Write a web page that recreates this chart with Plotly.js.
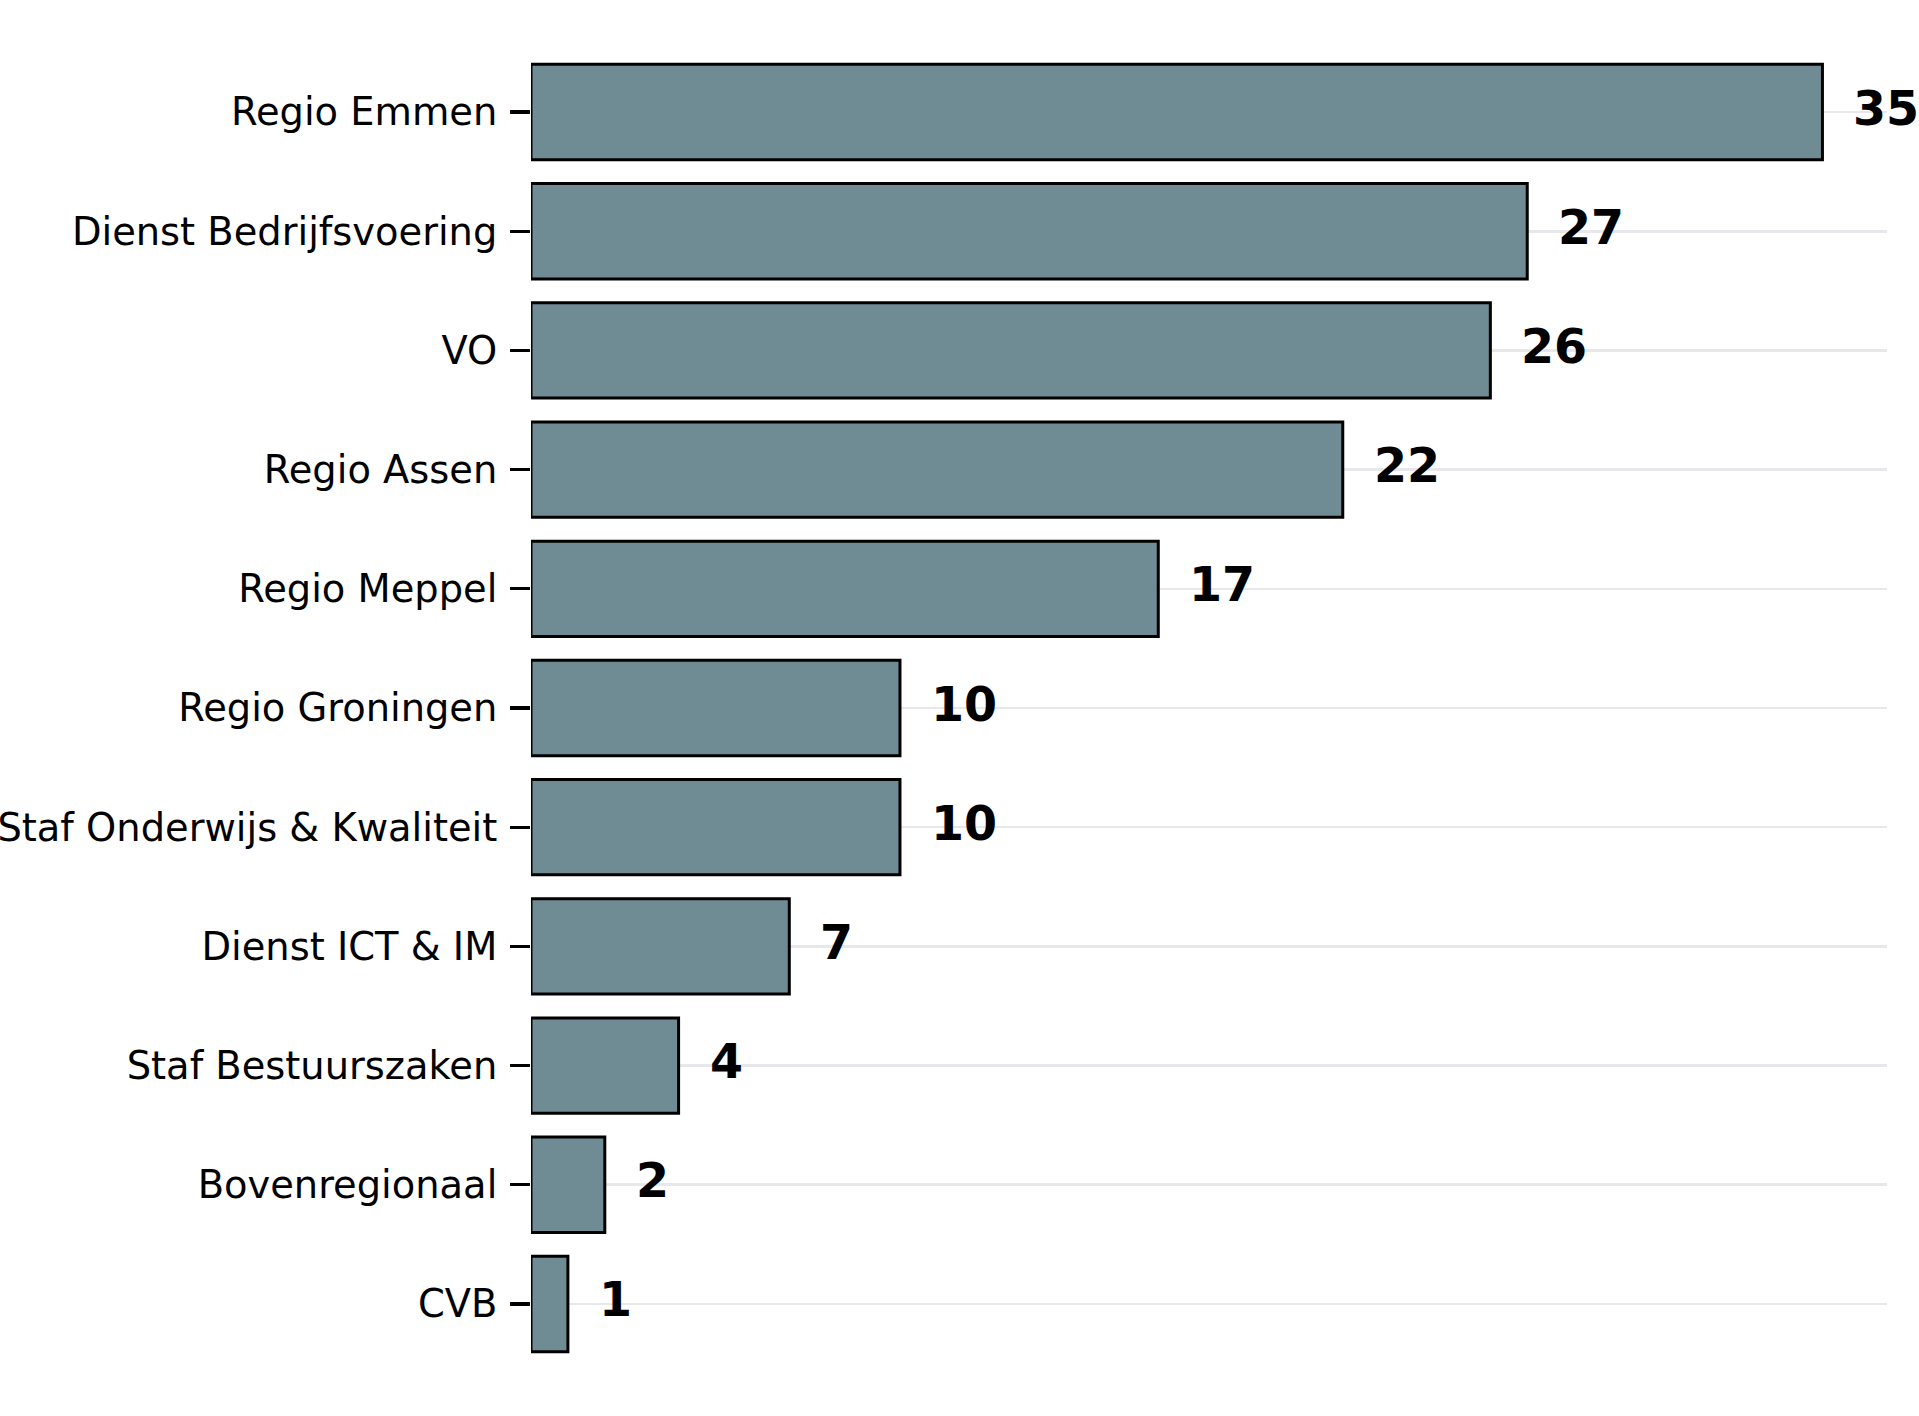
<!DOCTYPE html>
<html>
<head>
<meta charset="utf-8">
<script src="https://cdn.plot.ly/plotly-3.0.1.min.js"></script>
<style>
  html, body { margin: 0; padding: 0; background: #ffffff; }
  #plot { width: 1919px; height: 1416px; }
</style>
</head>
<body>
<div id="plot"></div>
<script>
// categories from top to bottom, with their counts
let categories = [
  'Regio Emmen',
  'Dienst Bedrijfsvoering',
  'VO',
  'Regio Assen',
  'Regio Meppel',
  'Regio Groningen',
  'Staf Onderwijs & Kwaliteit',
  'Dienst ICT & IM',
  'Staf Bestuurszaken',
  'Bovenregionaal',
  'CVB'
];
let counts = [35, 27, 26, 22, 17, 10, 10, 7, 4, 2, 1];

let barColor = '#6f8b93';
let fontFamily = 'DejaVu Sans';

let bars = {
  type: 'bar',
  orientation: 'h',
  x: counts,
  y: categories,
  marker: {
    color: barColor,
    line: { color: '#000000', width: 3 }
  },
  hoverinfo: 'none'
};

// value labels just right of each bar
let valueLabels = counts.map((v, i) => ({
  x: v,
  y: categories[i],
  xref: 'x',
  yref: 'y',
  text: String(v),
  showarrow: false,
  xanchor: 'left',
  yanchor: 'middle',
  xshift: 29,
  yshift: 4,
  font: { family: fontFamily, size: 47.5, color: '#000000', weight: 'bold' }
}));

let maxCount = Math.max(...counts);
let n = categories.length;

let layout = {
  width: 1919,
  height: 1416,
  margin: { l: 531, r: 32, t: 0, b: 0 },
  paper_bgcolor: '#ffffff',
  plot_bgcolor: '#ffffff',
  showlegend: false,
  bargap: 0.2,
  font: { family: fontFamily, color: '#000000' },
  xaxis: {
    range: [0, maxCount * 1.05],
    showgrid: false,
    zeroline: false,
    showline: false,
    ticks: '',
    showticklabels: false
  },
  yaxis: {
    type: 'category',
    categoryorder: 'array',
    categoryarray: categories,
    range: [n - 1 + 0.94, -0.94],
    showgrid: true,
    gridcolor: '#e8e8ec',
    gridwidth: 2.6,
    zeroline: false,
    showline: false,
    ticks: 'outside',
    ticklen: 20,
    tickwidth: 3.2,
    tickcolor: '#000000',
    ticklabelstandoff: 5,
    tickfont: { family: fontFamily, size: 38.4, color: '#000000' }
  },
  annotations: valueLabels
};

Plotly.newPlot('plot', [bars], layout, { staticPlot: true });
</script>
</body>
</html>
